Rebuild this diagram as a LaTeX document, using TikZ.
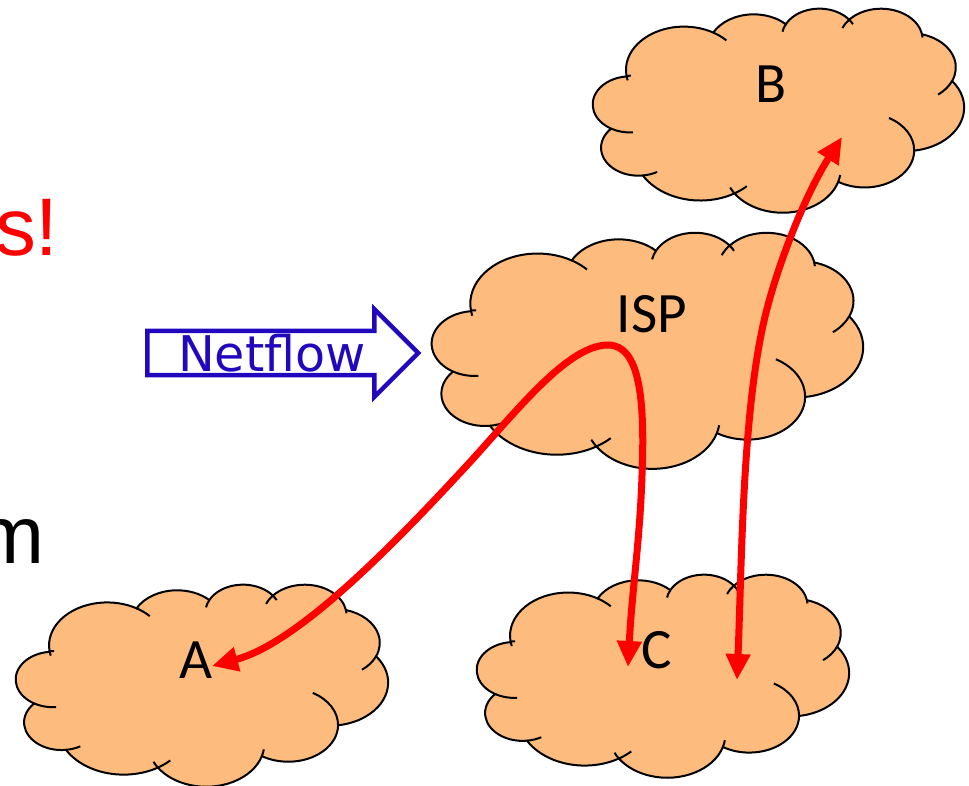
\documentclass[tikz,border=0pt]{standalone}
\usepackage{fontspec}
\setmainfont{Carlito}
\newfontfamily\flowfont{DejaVu Sans}
\newfontfamily\slidefont{Liberation Sans}
\usepackage{xcolor}
\usetikzlibrary{shapes,arrows.meta,positioning}
\definecolor{cloudorange}{HTML}{FDBB7D}
\definecolor{flowblue}{HTML}{2108BE}
\tikzset{
    declare function={puffang(\q,\rx,\ry)=\q+atan2((\rx-\ry)*sin(\q)*cos(\q),\ry*cos(\q)^2+\rx*sin(\q)^2);},
    puff/.style n args={4}{x radius=#1, y radius=#2, start angle={puffang(#3,#1,#2)}, end angle={puffang(#3+#4,#1,#2)}},
    cloudline/.style={draw=black, line width=0.04cm},
    cloudtext/.style={anchor=base, inner sep=0pt, font=\fontsize{32.5}{38}\selectfont},
    slidetext/.style={anchor=base east, inner sep=0pt, font=\slidefont\fontsize{46.5}{54}\selectfont},
    flowarrow/.style={single arrow, draw=flowblue, line width=0.09cm, anchor=tail, inner xsep=0pt, inner ysep=0.4cm,
        minimum height=5.42cm, minimum width=1.66cm, single arrow head extend=0.43cm},
    trafficline/.style={draw=red, line width=0.14cm, >={Triangle[length=0.52cm,width=0.47cm]}, <->},
    cloudblob/.pic={
        \draw[cloudline, fill=cloudorange] (3.9,14.37) coordinate (j0)
            arc[puff={6.753}{9.19}{-190.487}{123.78}] coordinate (j1)
            arc[puff={5.333}{7.267}{-144.102}{89.945}] coordinate (j2)
            arc[puff={4.365}{5.945}{-145.808}{99.723}] coordinate (j3)
            arc[puff={4.857}{6.595}{-130.986}{117.242}] coordinate (j4)
            arc[puff={5.333}{7.273}{-78.709}{109.027}] coordinate (j5)
            arc[puff={6.775}{9.22}{-46.267}{130.269}] coordinate (j6)
            arc[puff={5.785}{7.867}{0.625}{114.033}] coordinate (j7)
            arc[puff={6.752}{9.215}{22.452}{115.173}] coordinate (j8)
            arc[puff={7.72}{10.543}{66.243}{75.711}] coordinate (j9)
            arc[puff={4.36}{5.918}{-274.942}{146.736}] coordinate (j10)
            arc[puff={4.345}{5.945}{-246.829}{152.519}] -- cycle;
        \foreach \j/\rx/\ry/\st/\sw in {j1/6.753/9.19/-66.707/15, j2/4.365/5.945/-145.808/-20,
            j3/4.365/5.945/-46.085/12, j3/4.857/6.595/-130.986/-20, j4/4.857/6.595/-13.744/8,
            j5/5.333/7.273/30.318/30, j6/5.785/7.867/0.625/-68, j7/6.752/9.215/22.452/-12,
            j8/6.752/9.215/137.625/10, j8/7.72/10.543/66.243/-12, j9/4.36/5.918/85.058/-18,
            j10/4.345/5.945/113.171/-26.43, j0/4.345/5.945/-94.31/5, j0/6.753/9.19/-190.487/-8}
            \draw[cloudline] (\j) arc[puff={\rx}{\ry}{\st}{\sw}];
    }
}
\begin{document}
\begin{tikzpicture}[x=0.02cm, y=-0.02cm]
    \useasboundingbox (0,0) rectangle (969,786);

    % clouds, placed by their top left corner
    \pic (cloudB) [xscale=371/43.2, yscale=204/43.2] at (593,8) {cloudblob};
    \pic (cloudISP) [xscale=431/43.2, yscale=236/43.2] at (432,232) {cloudblob};
    \pic (cloudA) [xscale=372/43.2, yscale=202/43.2] at (16,584) {cloudblob};
    \pic (cloudC) [xscale=372/43.2, yscale=203/43.2] at (477,574) {cloudblob};

    \node [cloudtext] (labelB) at (771,103) {B};
    \node [cloudtext] (labelISP) at (652,333) {ISP};
    \node [cloudtext] (labelA) at (196,678) {A};
    \node [cloudtext] (labelC) at (657,668) {C};

    % text running off the left edge
    \node [slidetext, text=red] (cutred) at (59,256) {s!};
    \node [slidetext, text=black] (cutblack) at (45,563) {m};

    \node [flowarrow] (netarrow) at (145,353) {};
    \node [anchor=base, inner sep=0pt, text=flowblue, font=\flowfont\fontsize{28}{32}\selectfont] (netflow) at (272,372) {Netflow};

    \coordinate (tipA) at (212,666);
    \coordinate (tipC) at (628,667);
    \coordinate (tipBlow) at (737,680);
    \coordinate (tipB) at (842,137);

    \draw [trafficline] (tipA) .. controls (290,645) and (370,570) .. (458,475)
        .. controls (510,420) and (565,345) .. (608,345)
        .. controls (640,345) and (645,400) .. (642,475)
        .. controls (640,540) and (632,590) .. (tipC);
    \draw [trafficline] (tipBlow) .. controls (742,560) and (742,400) .. (768,305)
        .. controls (780,260) and (805,195) .. (tipB);
\end{tikzpicture}
\end{document}
